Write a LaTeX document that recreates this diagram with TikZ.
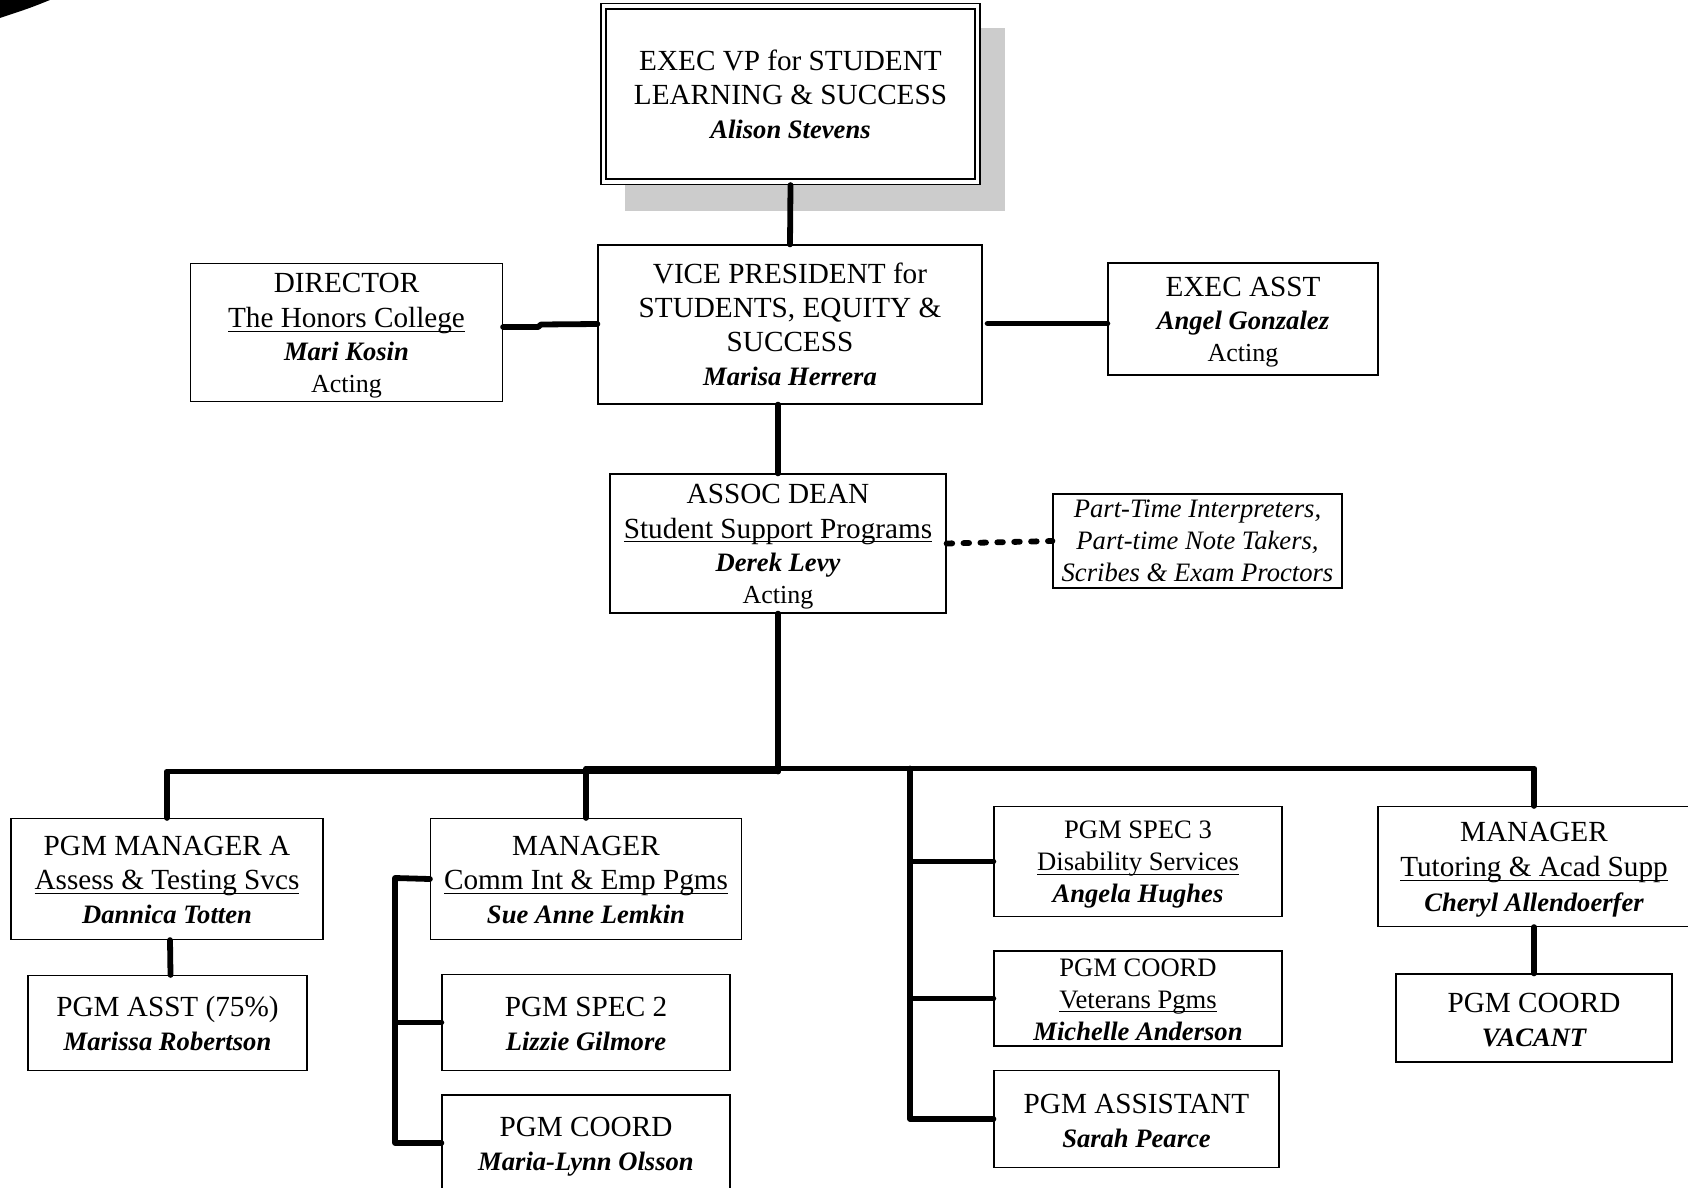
\documentclass[tikz,border=0pt]{standalone}
\usepackage{fontspec}
\setmainfont{Liberation Serif}
\usetikzlibrary{calc,positioning}

\newsavebox{\ulinebox}
\newcommand{\ulin}[1]{\sbox{\ulinebox}{#1}\rlap{\rule[-2pt]{\wd\ulinebox}{0.55pt}}\usebox{\ulinebox}}
\newcommand{\who}[1]{{\fontsize{13.3}{17}\selectfont\bfseries\itshape #1}}
\newcommand{\acting}[1]{{\fontsize{13}{15}\selectfont #1}}
\newcommand{\dn}[1]{\rule{0pt}{#1pt}}

\tikzset{
	box/.style={draw, line width=0.6pt, fill=white, align=center, inner sep=0pt, font=\fontsize{14.6}{17}\selectfont},
	wh/.style 2 args={minimum width=#1*0.5pt, minimum height=#2*0.5pt},
	conn/.style={line width=2.9pt, line cap=round, line join=round}
}

\begin{document}
\begin{tikzpicture}[x=0.5pt, y=-0.5pt]
	\useasboundingbox (0,0) rectangle (1688,1188);
	\clip (0,0) rectangle (1688,1188);

	% swoosh in the corner
	\fill (0,0) -- (50,0) .. controls (30,8) .. (0,18) -- cycle;

	% top box with shadow and double frame
	\fill[black!20] (625,28) rectangle (1005,211);
	\node[box, wh={379}{181}] (evp) at (790.5,94) {EXEC VP for STUDENT\\LEARNING \& SUCCESS\\\who{Alison Stevens}};
	\draw[line width=0.6pt] (606,9) rectangle (975,179);

	% second row
	\node[box, wh={384}{159}] (vp) at (790,324.5) {VICE PRESIDENT for\\STUDENTS, EQUITY \&\\SUCCESS\\\who{Marisa Herrera}};
	\node[box, wh={312}{138}] (honors) at (346.5,332.5) {\dn{13}DIRECTOR\\[0.5pt]\ulin{The Honors College}\\[-0.5pt]\who{Mari Kosin}\\[-1pt]\acting{Acting}};
	\node[box, wh={270}{112}] (asst) at (1243,319) {\dn{12.5}EXEC ASST\\[-0.5pt]\who{Angel Gonzalez}\\[-1pt]\acting{Acting}};

	% third row
	\node[box, wh={336}{139}] (dean) at (778,543.5) {\dn{12.4}ASSOC DEAN\\[0.5pt]\ulin{Student Support Programs}\\[-0.5pt]\who{Derek Levy}\\[-1pt]\acting{Acting}};
	\node[box, wh={289}{94}, font=\fontsize{13.3}{16}\selectfont\itshape] (parttime) at (1197.5,541) {Part-Time Interpreters,\\Part-time Note Takers,\\Scribes \& Exam Proctors};

	% bottom rows, from left to right
	\node[box, wh={312}{121}] (testing) at (167,879) {\dn{10.8}PGM MANAGER A\\\ulin{Assess \& Testing Svcs}\\\who{Dannica Totten}};
	\node[box, wh={279}{95}] (pgmasst) at (167.5,1023) {\dn{10.5}PGM ASST (75\%)\\\who{Marissa Robertson}};
	\node[box, wh={311}{121}] (commint) at (586,879) {\dn{10.8}MANAGER\\\ulin{Comm Int \& Emp Pgms}\\\who{Sue Anne Lemkin}};
	\node[box, wh={288}{96}] (spec2) at (586,1022.5) {\dn{11.3}PGM SPEC 2\\\who{Lizzie Gilmore}};
	\node[box, wh={288}{96}] (coord) at (586,1143) {\dn{13}PGM COORD\\\who{Maria-Lynn Olsson}};
	\node[box, wh={288}{110}, font=\fontsize{13.3}{16}\selectfont] (spec3) at (1138,861.5) {\dn{12}PGM SPEC 3\\\ulin{Disability Services}\\\who{Angela Hughes}};
	\node[box, wh={288}{95}, font=\fontsize{13.3}{16}\selectfont] (veterans) at (1138,998.5) {\dn{9.9}PGM COORD\\\ulin{Veterans Pgms}\\\who{Michelle Anderson}};
	\node[box, wh={285}{97}] (pgmassistant) at (1136.5,1119) {\dn{11.3}PGM ASSISTANT\\\who{Sarah Pearce}};
	\node[box, wh={312}{120}] (tutoring) at (1534,866.5) {\dn{13}MANAGER\\[0.5pt]\ulin{Tutoring \& Acad Supp}\\[0.5pt]\who{Cheryl Allendoerfer}};
	\node[box, wh={276}{88}] (vacant) at (1534,1018) {\dn{11.3}PGM COORD\\\who{VACANT}};

	% points where the lines meet
	\coordinate (busl) at (778,771.5);
	\coordinate (busr) at (778,768.5);
	\coordinate (tee) at (910,768.5);
	\coordinate (rail) at (395,878);

	% upper connectors
	\draw[conn] (evp.south) -- (vp.north);
	\draw[conn] (vp.south -| dean.north) -- (dean.north);
	\draw[conn] (honors.east) ++(0,-5.5) -- ++(35,0) -- ++(3,-2.5) -- ($(vp.west)+(0,-0.5)$);
	\draw[conn] ($(vp.east)+(5,-1)$) -- ($(asst.west)+(0,4.5)$);
	\draw[conn, dash pattern=on 2.8pt off 5.65pt] (dean.east) -- (parttime.west);

	% main bus
	\draw[conn] (dean.south) -- (busl);
	\draw[conn] (testing.north) -- (testing.north |- busl) -- (busl);
	\draw[conn] (commint.north) -- (commint.north |- busl);
	\draw[conn] (commint.north |- busr) -- (busr);
	\draw[conn] (busr) -- (tutoring.north |- busr) -- (tutoring.north);

	% left rail
	\draw[conn] (commint.west) -- (rail) |- (coord.west);
	\draw[conn] (rail |- spec2.west) -- (spec2.west);

	% right rail
	\draw[conn] (tee) |- (pgmassistant.west);
	\draw[conn] (tee |- spec3.west) -- (spec3.west);
	\draw[conn] (tee |- veterans.west) -- (veterans.west);

	% boxes below a manager
	\draw[conn] ($(testing.south)+(3,0)$) -- ($(pgmasst.north)+(3,0)$);
	\draw[conn] (tutoring.south -| vacant.north) -- (vacant.north);
\end{tikzpicture}
\end{document}
